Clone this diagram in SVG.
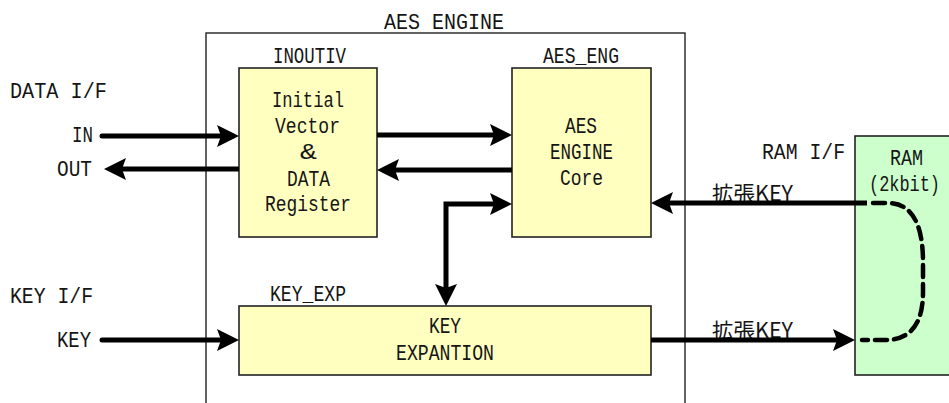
<svg xmlns="http://www.w3.org/2000/svg" width="949" height="403" viewBox="0 0 949 403">
<defs>
<style>
text{font-family:"Liberation Mono","DejaVu Sans Mono",monospace;font-size:22px;fill:#151515}
.blk{fill:#FFFFC0;stroke:#222;stroke-width:1.6}
.ram{fill:#CCFFCC;stroke:#222;stroke-width:1.6}
.frame{fill:none;stroke:#222;stroke-width:1.4}
.wire{fill:none;stroke:#000;stroke-width:5;stroke-linecap:butt;stroke-linejoin:miter}
.rc{stroke-linecap:round}
.dash{fill:none;stroke:#000;stroke-width:4.5;stroke-dasharray:12 7;stroke-linecap:round}
.jp{font-family:"Noto Sans CJK JP","Liberation Sans",sans-serif;font-size:21px}
</style>
<marker id="ah" markerUnits="userSpaceOnUse" markerWidth="24" markerHeight="24" refX="12" refY="11" orient="auto">
<path d="M0,0 L22,11 L0,22 L4,11 Z" fill="#000"/>
</marker>
<marker id="ahs" markerUnits="userSpaceOnUse" markerWidth="24" markerHeight="24" refX="12" refY="11" orient="auto-start-reverse">
<path d="M0,0 L22,11 L0,22 L4,11 Z" fill="#000"/>
</marker>
</defs>
<rect width="949" height="403" fill="#fff"/>

<g id="aes_engine">
<rect class="frame" x="206" y="33" width="479" height="400"/>
<text x="384" y="29" textLength="120" lengthAdjust="spacingAndGlyphs">AES ENGINE</text>
</g>

<g id="inoutiv">
<rect class="blk" x="239" y="68" width="138" height="169"/>
<text x="273" y="63" textLength="73" lengthAdjust="spacingAndGlyphs">INOUTIV</text>
<text x="272" y="107" textLength="72" lengthAdjust="spacingAndGlyphs">Initial</text>
<text x="275" y="133" textLength="65" lengthAdjust="spacingAndGlyphs">Vector</text>
<text x="300" y="159" textLength="17" lengthAdjust="spacingAndGlyphs">&amp;</text>
<text x="287" y="186" textLength="43" lengthAdjust="spacingAndGlyphs">DATA</text>
<text x="265" y="211" textLength="86" lengthAdjust="spacingAndGlyphs">Register</text>
</g>

<g id="aes_eng">
<rect class="blk" x="512" y="68" width="139" height="169"/>
<text x="543" y="63" textLength="76" lengthAdjust="spacingAndGlyphs">AES_ENG</text>
<text x="565" y="133" textLength="32" lengthAdjust="spacingAndGlyphs">AES</text>
<text x="550" y="159" textLength="63" lengthAdjust="spacingAndGlyphs">ENGINE</text>
<text x="560" y="185" textLength="43" lengthAdjust="spacingAndGlyphs">Core</text>
</g>

<g id="key_exp">
<rect class="blk" x="239" y="306" width="412" height="69"/>
<text x="270" y="301" textLength="76" lengthAdjust="spacingAndGlyphs">KEY_EXP</text>
<text x="429" y="333" textLength="32" lengthAdjust="spacingAndGlyphs">KEY</text>
<text x="396" y="360" textLength="98" lengthAdjust="spacingAndGlyphs">EXPANTION</text>
</g>

<g id="ram">
<rect class="ram" x="855" y="136" width="96" height="239"/>
<text x="890" y="165" textLength="33" lengthAdjust="spacingAndGlyphs">RAM</text>
<text transform="translate(869,191) scale(1,1.2)" style="font-size:18px" textLength="71" lengthAdjust="spacingAndGlyphs">(2kbit)</text>
</g>

<g id="labels">
<text x="10" y="98" textLength="97" lengthAdjust="spacingAndGlyphs">DATA I/F</text>
<text x="72" y="142" textLength="21" lengthAdjust="spacingAndGlyphs">IN</text>
<text x="57" y="176" textLength="35" lengthAdjust="spacingAndGlyphs">OUT</text>
<text x="10" y="303" textLength="83" lengthAdjust="spacingAndGlyphs">KEY I/F</text>
<text x="57" y="347" textLength="34" lengthAdjust="spacingAndGlyphs">KEY</text>
<text x="762" y="159" textLength="83" lengthAdjust="spacingAndGlyphs">RAM I/F</text>
<text class="jp" x="712" y="201" textLength="81" lengthAdjust="spacingAndGlyphs">拡張KEY</text>
<text class="jp" x="712" y="338" textLength="81" lengthAdjust="spacingAndGlyphs">拡張KEY</text>
</g>

<g id="connectors">
<path class="wire rc" d="M102,136 H229" marker-end="url(#ah)"/>
<path class="wire" d="M239,169 H114" marker-end="url(#ah)"/>
<path class="wire" d="M377,135 H502" marker-end="url(#ah)"/>
<path class="wire" d="M512,170 H387" marker-end="url(#ah)"/>
<path class="wire" d="M446,296 V204 H502" marker-start="url(#ahs)" marker-end="url(#ah)"/>
<path class="wire" d="M867,203 H661" marker-end="url(#ah)"/>
<path class="wire" d="M651,340 H845" marker-end="url(#ah)"/>
<path class="wire rc" d="M102,340 H229" marker-end="url(#ah)"/>
<path class="dash" d="M873,203 H888 C916,203 923,232 923,262 V292 C923,322 912,340 885,340 H862"/>
</g>
</svg>
